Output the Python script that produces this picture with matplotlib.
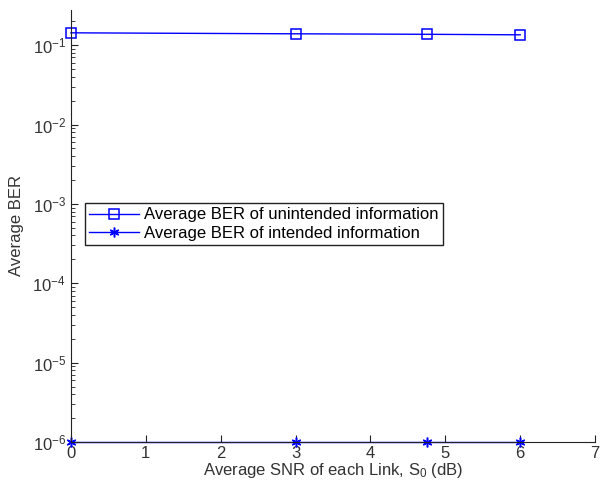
import matplotlib.pyplot as plt
import matplotlib.ticker as mticker

plt.rcParams['font.family'] = ['Liberation Sans', 'DejaVu Sans']
plt.rcParams['mathtext.fontset'] = 'custom'
plt.rcParams['mathtext.rm'] = 'Liberation Sans'
plt.rcParams['mathtext.it'] = 'Liberation Sans'
plt.rcParams['axes.unicode_minus'] = False

# data
snr_db = [0, 3, 4.75, 6]
ber_unintended = [0.143, 0.139, 0.137, 0.135]
ber_intended = [1e-6, 1e-6, 1e-6, 1e-6]

x_ticks = [0, 1, 2, 3, 4, 5, 6, 7]
y_ticks = [1e-6, 1e-5, 1e-4, 1e-3, 1e-2, 1e-1]

fig = plt.figure(figsize=(6.06, 4.93), dpi=100)
ax = fig.add_axes([0.117, 0.1034, 0.865, 0.877])

ax.semilogy(snr_db, ber_unintended, '-s', color='#0000FF', linewidth=1,
            markersize=7.5, markerfacecolor='none', markeredgewidth=1.1,
            label='Average BER of unintended information', clip_on=False)
ax.semilogy(snr_db, ber_intended, '-', marker=(6, 2, 0), color='#0000FF', linewidth=1,
            markersize=7, markeredgewidth=1.1,
            label='Average BER of intended information', clip_on=False)

ax.set_xlim(0, 7)
ax.set_ylim(1e-6, 0.28)
ax.set_xticks(x_ticks)
ax.set_yticks(y_ticks)
ax.yaxis.set_minor_locator(mticker.LogLocator(base=10, subs=range(2, 10), numticks=20))
ax.yaxis.set_minor_formatter(mticker.NullFormatter())

for side in ['top', 'right']:
    ax.spines[side].set_visible(False)
for side in ['left', 'bottom']:
    ax.spines[side].set_color('#222222')

ax.tick_params(direction='in', which='both', colors='#222222', labelsize=12,
               labelcolor='#333333')
ax.tick_params(which='major', length=5)
ax.tick_params(which='minor', length=3)
ax.tick_params(axis='x', pad=3)

ax.set_xlabel('Average SNR of each Link, S$_0$ (dB)', fontsize=12, color='#333333', labelpad=0)
ax.set_ylabel('Average BER', fontsize=12, color='#333333', labelpad=6)

leg = ax.legend(loc='lower left', bbox_to_anchor=(0.027, 0.456), fontsize=12,
                frameon=True, fancybox=False, borderaxespad=0, handlelength=3,
                borderpad=0.25, labelspacing=0.2, handletextpad=0.3)
leg.get_frame().set_edgecolor('#222222')
leg.get_frame().set_linewidth(1)
leg.get_frame().set_alpha(1)

fig.savefig('out.png', dpi=100)
